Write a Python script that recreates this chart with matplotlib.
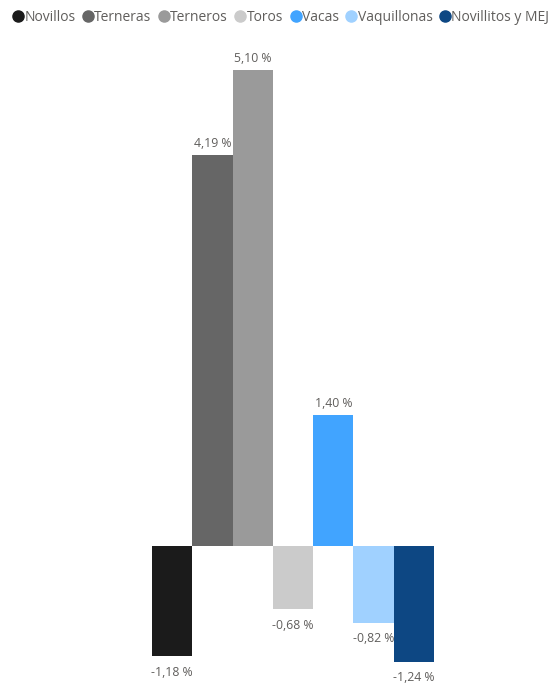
# Variación de precios por categoría de hacienda

import matplotlib.pyplot as plt
from matplotlib.lines import Line2D

categorias = ['Novillos', 'Terneras', 'Terneros', 'Toros', 'Vacas',
              'Vaquillonas', 'Novillitos y MEJ']
variacion = [-1.18, 4.19, 5.10, -0.68, 1.40, -0.82, -1.24]
colores = ['#1b1b1b', '#666666', '#9a9a9a', '#cbcbcb', '#41a4ff',
           '#a0d1ff', '#0d4783']

texto_color = '#605e5c'
plt.rcParams['font.family'] = ['Open Sans', 'DejaVu Sans']

fig = plt.figure(figsize=(5.5, 6.87), dpi=100)
ax = fig.add_axes([0.2764, 0.0015, 0.5127, 0.9505])

ancho = 1.0
for i, (v, c) in enumerate(zip(variacion, colores)):
    ax.bar(i, v, width=ancho, color=c, zorder=2)
    etiqueta = '{0:.2f} %'.format(v).replace('.', ',')
    if v >= 0:
        ax.annotate(etiqueta, (i, v), xytext=(0, 4), textcoords='offset points',
                    ha='center', va='bottom', fontsize=8.8, color=texto_color,
                    zorder=1)
    else:
        ax.annotate(etiqueta, (i, v), xytext=(0, -7), textcoords='offset points',
                    ha='center', va='top', fontsize=8.8, color=texto_color,
                    zorder=1)

ax.set_xlim(-0.5, len(variacion) - 0.5)
ax.set_ylim(-1.5, 5.5)
ax.axis('off')

handles = [Line2D([], [], marker='o', linestyle='none', markersize=8,
                  markerfacecolor=c, markeredgecolor=c) for c in colores]
fig.legend(handles, categorias, loc='upper left', bbox_to_anchor=(0.0, 1.0),
           ncol=7, frameon=False, fontsize=10, handletextpad=-0.15,
           columnspacing=0.3, handlelength=1.2, borderaxespad=0.3,
           labelcolor=texto_color)

fig.savefig('out.png', dpi=100)
